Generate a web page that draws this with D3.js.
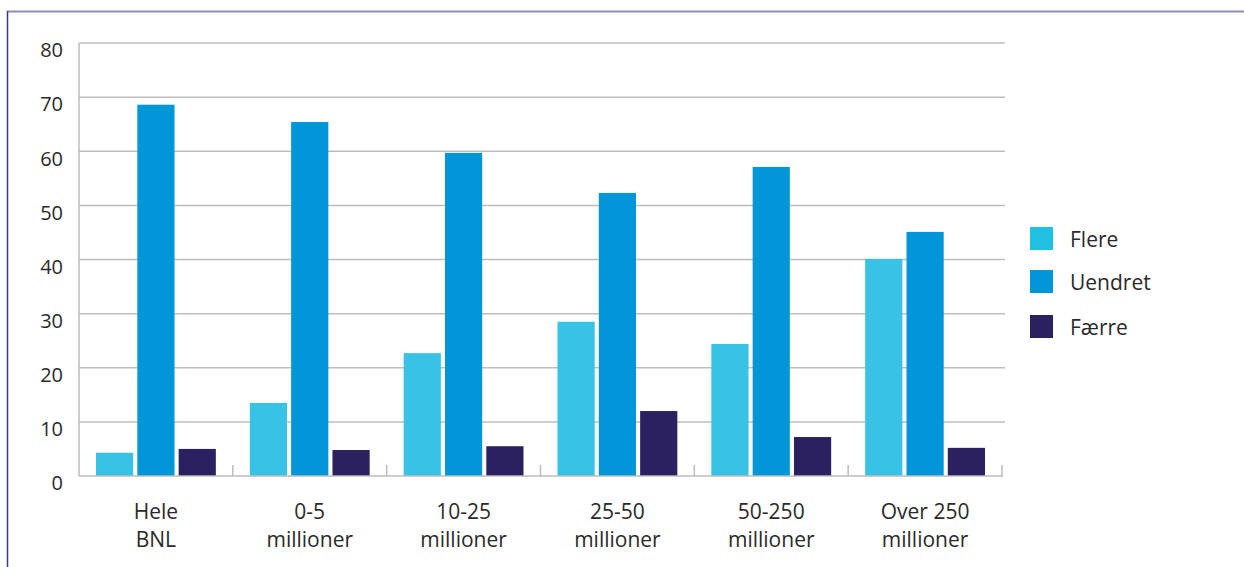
<!DOCTYPE html>
<html><head><meta charset="utf-8">
<script src="https://cdn.jsdelivr.net/npm/d3@7"></script>
<style>body{margin:0;background:#fff}svg{display:block}text{font-family:"Open Sans",sans-serif;fill:#2a2a2a}</style>
</head><body>
<script>
const categories = [["Hele","BNL"],["0-5","millioner"],["10-25","millioner"],["25-50","millioner"],["50-250","millioner"],["Over 250","millioner"]];
const seriesNames = ["Flere","Uendret","Færre"];
const flere   = [4.3, 13.5, 22.7, 28.5, 24.4, 40.1];
const uendret = [68.6, 65.4, 59.7, 52.3, 57.1, 45.1];
const faerre  = [5.0, 4.8, 5.5, 12.0, 7.2, 5.2];
const yTicks = [0,10,20,30,40,50,60,70,80];
const barColors = ["#38c3e6","#0096d8","#2b2160"];
const legendColors = ["#20c0e2","#0096d8","#2b2160"];

(function(){
const W=1244,H=567;
const svg=d3.select("body").append("svg").attr("width",W).attr("height",H);
// frame
svg.append("line").attr("x1",7).attr("x2",W).attr("y1",11.5).attr("y2",11.5).attr("stroke","#8e8eb4").attr("stroke-width",2);
svg.append("line").attr("x1",7.5).attr("x2",7.5).attr("y1",11).attr("y2",H).attr("stroke","#3a3a86").attr("stroke-width",1.5);

const pl=79,pr=1002,pt=43,pb=476;
const idx=d3.range(categories.length);
const x=d3.scaleBand().domain(idx).range([pl,pr]).paddingInner(0).paddingOuter(0);
const x1=d3.scaleBand().domain(seriesNames).range([17,x.bandwidth()-17]).paddingInner(0.1);
const y=d3.scaleLinear().domain([0,80]).range([pb,pt]);

// gridlines
svg.append("g").selectAll("line").data(yTicks.filter(d=>d>0)).join("line")
  .attr("x1",pl).attr("x2",1005).attr("y1",d=>y(d)).attr("y2",d=>y(d))
  .attr("stroke","#bdbdbd").attr("stroke-width",1.5);
// y axis line
svg.append("line").attr("x1",pl).attr("x2",pl).attr("y1",pt).attr("y2",pb).attr("stroke","#bdbdbd").attr("stroke-width",1.5);
// y labels
svg.append("g").selectAll("text").data(yTicks).join("text")
  .attr("x",63).attr("y",d=>y(d)+9).attr("text-anchor","end").attr("dominant-baseline","middle")
  .style("font-size","20px").text(d=>d);

// bars
const data=[flere,uendret,faerre];
const g=svg.append("g");
seriesNames.forEach((s,si)=>{
  g.selectAll(".b"+si).data(data[si]).join("rect").attr("class","b"+si)
   .attr("x",(d,i)=>x(i)+x1(s)).attr("width",x1.bandwidth())
   .attr("y",d=>y(d)).attr("height",d=>y(0)-y(d)).attr("fill",barColors[si]);
});

// x axis line and ticks
svg.append("line").attr("x1",pl).attr("x2",pr+1).attr("y1",pb).attr("y2",pb).attr("stroke","#bdbdbd").attr("stroke-width",1.5);
svg.append("g").selectAll("line").data(idx.slice(1).concat([categories.length])).join("line")
  .attr("x1",d=>d<categories.length?x(d):pr).attr("x2",d=>d<categories.length?x(d):pr)
  .attr("y1",pb-11).attr("y2",pb).attr("stroke","#bdbdbd").attr("stroke-width",1.5);

// x labels
const xl=svg.append("g").selectAll("text").data(categories).join("text")
  .attr("x",(d,i)=>x(i)+x.bandwidth()/2).attr("y",519).attr("text-anchor","middle").style("font-size","21px");
xl.selectAll("tspan").data(d=>d).join("tspan").attr("x",function(){return this.parentNode.getAttribute("x");})
  .attr("dy",(d,i)=>i?28:0).text(d=>d);

// legend
const lg=svg.append("g").selectAll("g").data(seriesNames).join("g")
  .attr("transform",(d,i)=>`translate(1030,${227+[0,43,88][i]})`);
lg.append("rect").attr("width",23).attr("height",23).attr("fill",(d,i)=>legendColors[i]);
lg.append("text").attr("x",40).attr("y",14).attr("dominant-baseline","middle").style("font-size","21px").text(d=>d);
})();
</script>
</body></html>
